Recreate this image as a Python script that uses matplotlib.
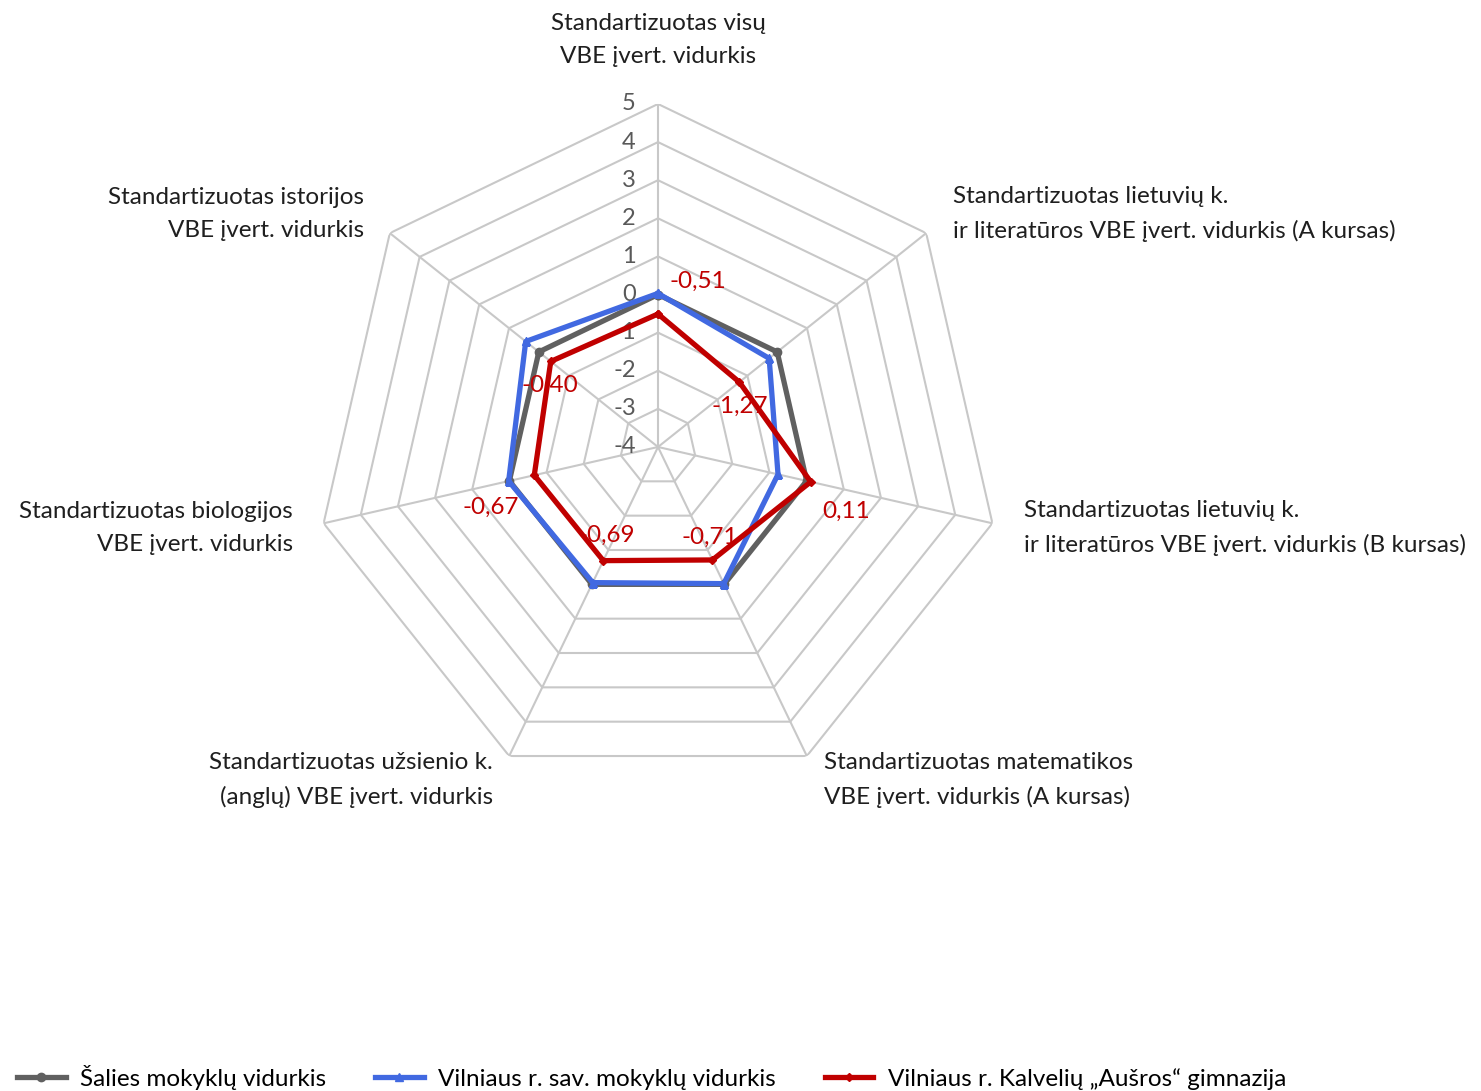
import numpy as np
import matplotlib
matplotlib.use("Agg")
import matplotlib.pyplot as plt

plt.rcParams['font.family'] = ['Lato', 'DejaVu Sans']

# kategorijos (pagal laikrodžio rodyklę nuo viršaus)
categories = [
    "Standartizuotas visų\nVBE įvert. vidurkis",
    "Standartizuotas lietuvių k.\nir literatūros VBE įvert. vidurkis (A kursas)",
    "Standartizuotas lietuvių k.\nir literatūros VBE įvert. vidurkis (B kursas)",
    "Standartizuotas matematikos\nVBE įvert. vidurkis (A kursas)",
    "Standartizuotas užsienio k.\n(anglų) VBE įvert. vidurkis",
    "Standartizuotas biologijos\nVBE įvert. vidurkis",
    "Standartizuotas istorijos\nVBE įvert. vidurkis",
]
salies = [0.0, 0.0, 0.0, 0.0, 0.0, 0.0, 0.0]
vilniaus_r = [0.03, -0.27, -0.77, -0.02, -0.05, 0.02, 0.44]
kalveliu = [-0.51, -1.27, 0.11, -0.71, -0.69, -0.67, -0.40]
kalveliu_labels = ["-0,51", "-1,27", "0,11", "-0,71", "-0,69", "-0,67", "-0,40"]
series_names = ["Šalies mokyklų vidurkis", "Vilniaus r. sav. mokyklų vidurkis",
                "Vilniaus r. Kalvelių „Aušros“ gimnazija"]
rings = [-4, -3, -2, -1, 0, 1, 2, 3, 4, 5]

n = len(categories)
theta = np.arange(n) * 2 * np.pi / n
theta_c = np.append(theta, theta[0])

fig = plt.figure(figsize=(14.81, 10.91), dpi=100)
ax = fig.add_axes([0.2127, 0.2759, 0.4632, 0.6288], projection='polar')
ax.set_theta_zero_location('N')
ax.set_theta_direction(-1)
ax.set_ylim(-4, 5)
ax.grid(False)
ax.spines['polar'].set_visible(False)
ax.set_xticks([])
ax.set_yticks([])
ax.patch.set_visible(False)

grid_c = '#c8c8c8'
for r in rings:
    ax.plot(theta_c, [r] * (n + 1), color=grid_c, lw=1.5, zorder=1)
for t in theta:
    ax.plot([t, t], [-4, 5], color=grid_c, lw=1.5, zorder=1)

# skalės skaičiai
for r in rings:
    ax.annotate(str(r), xy=(0, r), xytext=(-16, 0), textcoords='offset points',
                ha='right', va='center', fontsize=17, color='#595959', zorder=2)

ax.plot(theta_c, salies + salies[:1], color='#606060', lw=3.8, marker='o', ms=6,
        label=series_names[0], zorder=3)
ax.plot(theta_c, vilniaus_r + vilniaus_r[:1], color='#4169e1', lw=3.8, marker='^', ms=6,
        label=series_names[1], zorder=4)
ax.plot(theta_c, kalveliu + kalveliu[:1], color='#c00000', lw=3.8, marker='D', ms=4,
        label=series_names[2], zorder=5)

# duomenų etiketės
lab_off = [(28.8, 23.8), (0, -17.3), (25.2, -21.6), (-2.2, 16.6), (2.2, 18),
           (-31, -23), (-0.7, -17.3)]
for t, v, s, (dx, dy) in zip(theta, kalveliu, kalveliu_labels, lab_off):
    ax.annotate(s, xy=(t, v), xytext=(dx, dy), textcoords='offset points',
                ha='center', va='center', fontsize=17.5, color='#c00000', zorder=6)

# kategorijų pavadinimai (px koordinatės)
cat_pos = [(658, 40, 'center'), (953, 214, 'left'), (1024, 528, 'left'),
           (824, 780, 'left'), (493, 780, 'right'), (293, 528, 'right'),
           (364, 214, 'right')]
W, H = 1481, 1091
for name, (x, y, ha) in zip(categories, cat_pos):
    fig.text(x / W, 1 - y / H, name, ha=ha, va='center', fontsize=17.5,
             color='#1f1f1f', linespacing=1.68, multialignment=ha)

fig.legend(loc='lower center', bbox_to_anchor=(0.44, -0.019), ncol=3, frameon=False,
           fontsize=17.5, handlelength=2.0, columnspacing=2.0, handletextpad=0.6)

fig.savefig('out.png', dpi=100)
